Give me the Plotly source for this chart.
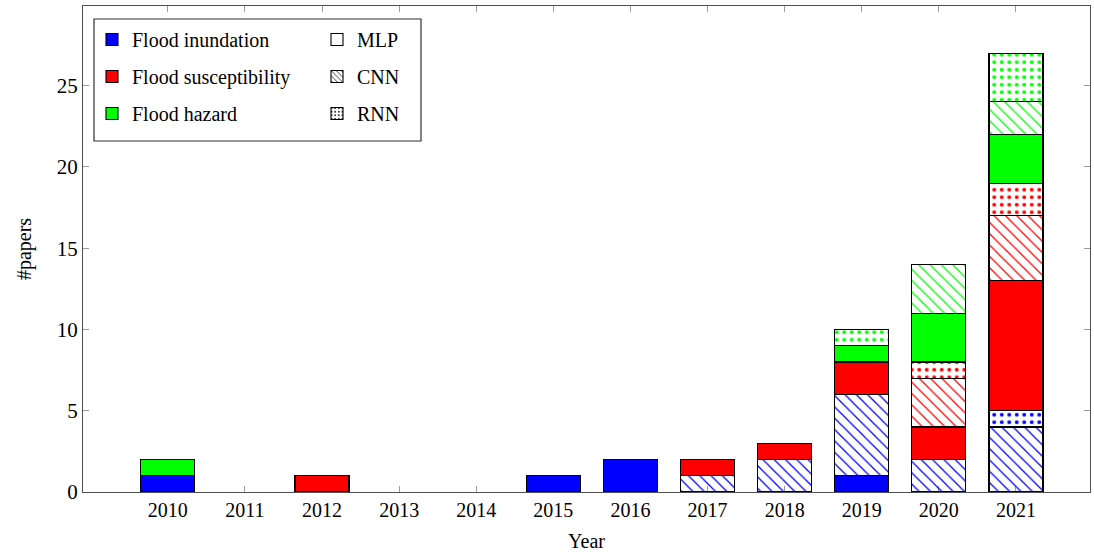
import plotly.graph_objects as go

years = [2010, 2011, 2012, 2013, 2014, 2015, 2016, 2017, 2018, 2019, 2020, 2021]

# papers per year: category x architecture
inund_mlp = [1, 0, 0, 0, 0, 1, 2, 0, 0, 1, 0, 0]
inund_cnn = [0, 0, 0, 0, 0, 0, 0, 1, 2, 5, 2, 4]
inund_rnn = [0, 0, 0, 0, 0, 0, 0, 0, 0, 0, 0, 1]
susc_mlp = [0, 0, 1, 0, 0, 0, 0, 1, 1, 2, 2, 8]
susc_cnn = [0, 0, 0, 0, 0, 0, 0, 0, 0, 0, 3, 4]
susc_rnn = [0, 0, 0, 0, 0, 0, 0, 0, 0, 0, 1, 2]
haz_mlp = [1, 0, 0, 0, 0, 0, 0, 0, 0, 1, 3, 3]
haz_cnn = [0, 0, 0, 0, 0, 0, 0, 0, 0, 0, 3, 2]
haz_rnn = [0, 0, 0, 0, 0, 0, 0, 0, 0, 1, 0, 3]

categories = ["Flood inundation", "Flood susceptibility", "Flood hazard"]
cat_colors = ["#0000ff", "#ff0000", "#00ff00"]
archs = ["MLP", "CNN", "RNN"]
arch_shapes = ["", "\\", "."]

series = [
    (0, 0, inund_mlp), (0, 1, inund_cnn), (0, 2, inund_rnn),
    (1, 0, susc_mlp), (1, 1, susc_cnn), (1, 2, susc_rnn),
    (2, 0, haz_mlp), (2, 1, haz_cnn), (2, 2, haz_rnn),
]

FONT = "Liberation Serif"
fig = go.Figure()

for ci, ai, vals in series:
    color = cat_colors[ci]
    yv = [v if v else None for v in vals]
    if ai == 0:
        marker = dict(color=color, line=dict(color="black", width=1.1))
    else:
        marker = dict(
            color="white",
            line=dict(color="black", width=1.1),
            pattern=dict(shape=arch_shapes[ai], fgcolor=color, bgcolor="rgba(255,255,255,0)",
                         size=8 if ai == 1 else 7.5, solidity=0.16 if ai == 1 else 0.22,
                         fillmode="replace"),
        )
    fig.add_trace(go.Bar(x=years, y=yv, width=0.7, marker=marker, showlegend=False,
                         name=f"{categories[ci]} {archs[ai]}"))

# legend entries: categories (colours)
for name, color in zip(categories, cat_colors):
    fig.add_trace(go.Bar(x=[None], y=[None], name=name, legend="legend", legendgroup=name,
                         marker=dict(color=color, line=dict(color="black", width=1.1))))
# legend entries: architectures (patterns)
for name, shp in zip(archs, arch_shapes):
    m = dict(color="white", line=dict(color="black", width=1.1))
    if shp:
        m["pattern"] = dict(shape=shp, fgcolor="black", bgcolor="rgba(255,255,255,0)",
                            size=4.5, solidity=0.2, fillmode="replace")
    fig.add_trace(go.Bar(x=[None], y=[None], name=name, legend="legend2", legendgroup=name,
                         marker=m))

W, H = 1094, 554
ml, mr, mt, mb = 83, 4, 6, 62
pw, ph = W - ml - mr, H - mt - mb


def px(x):
    return (x - ml) / pw


def py(y):
    return (H - mb - y) / ph


legfont = dict(family=FONT, size=20, color="black")
fig.update_layout(
    width=W, height=H,
    margin=dict(l=ml, r=mr, t=mt, b=mb),
    barmode="stack",
    plot_bgcolor="white", paper_bgcolor="white",
    font=dict(family=FONT, size=20, color="black"),
    xaxis=dict(range=[2008.9, 2021.96], tickvals=years, ticktext=[str(y) for y in years],
               ticks="inside", ticklen=6, tickcolor="#9a9a9a", tickwidth=1,
               showline=True, linecolor="#505050", linewidth=1.2, mirror="ticks",
               showgrid=False, zeroline=False, layer="below traces", automargin=False,
               title=dict(text="Year", standoff=13, font=dict(family=FONT, size=20)),
               tickfont=dict(family=FONT, size=20)),
    yaxis=dict(range=[0, 29.9], tickvals=[0, 5, 10, 15, 20, 25],
               ticks="inside", ticklen=6, tickcolor="#9a9a9a", tickwidth=1,
               showline=True, linecolor="#505050", linewidth=1.2, mirror="ticks",
               showgrid=False, zeroline=False, layer="below traces", automargin=False,
               title=dict(text="#papers", standoff=19, font=dict(family=FONT, size=20)),
               tickfont=dict(family=FONT, size=21)),
    legend=dict(x=px(92), y=py(20), xanchor="left", yanchor="top", bgcolor="rgba(0,0,0,0)",
                borderwidth=0, font=legfont, tracegroupgap=8, itemwidth=30,
                traceorder="grouped"),
    legend2=dict(x=px(317), y=py(20), xanchor="left", yanchor="top", bgcolor="rgba(0,0,0,0)",
                 borderwidth=0, font=legfont, tracegroupgap=8, itemwidth=30,
                 traceorder="grouped"),
    shapes=[dict(type="rect", xref="paper", yref="paper", x0=px(94), x1=px(421),
                 y0=py(141), y1=py(19), line=dict(color="#303030", width=1.2),
                 fillcolor="white", layer="above")],
)
fig.write_html("out.html", config={"displayModeBar": False},
               post_script="document.body.style.margin='0';")
